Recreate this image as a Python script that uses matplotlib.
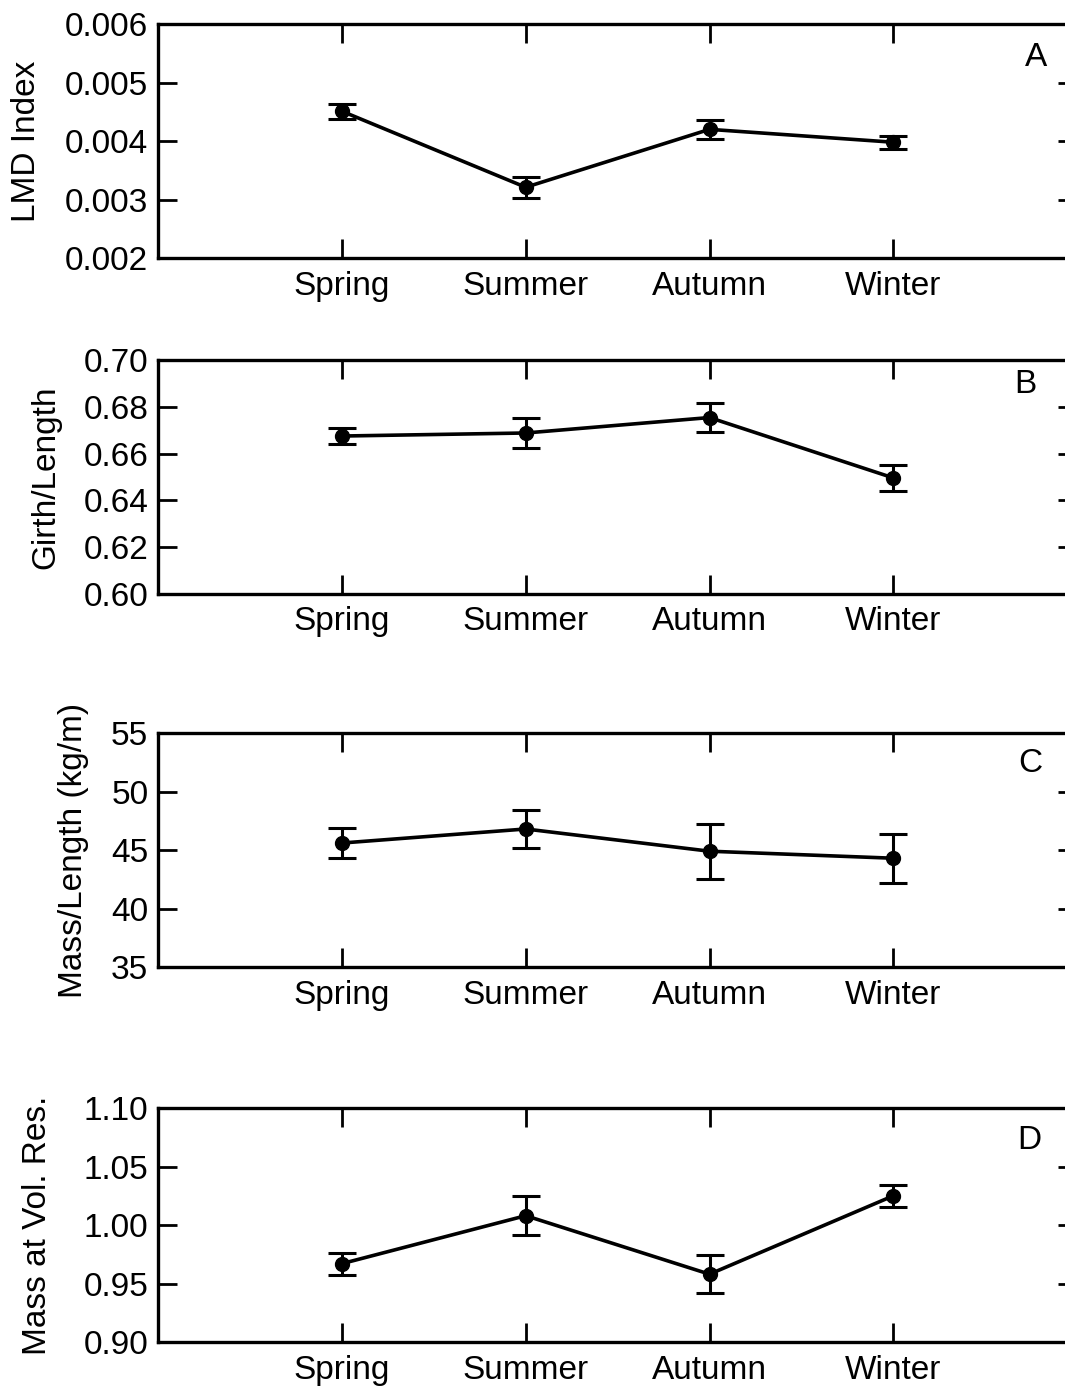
import matplotlib
matplotlib.use('Agg')
import matplotlib.pyplot as plt

plt.rcParams['font.family'] = ['Liberation Sans', 'DejaVu Sans']

seasons = ['Spring', 'Summer', 'Autumn', 'Winter']

lmd = [0.00451, 0.00321, 0.00420, 0.00398]
lmd_err = [0.00013, 0.00018, 0.00016, 0.00011]

girth = [0.6675, 0.6688, 0.6754, 0.6496]
girth_err = [0.0036, 0.0066, 0.0062, 0.0056]

mass_len = [45.6, 46.8, 44.9, 44.3]
mass_len_err = [1.25, 1.6, 2.35, 2.1]

mass_vol = [0.967, 1.008, 0.958, 1.025]
mass_vol_err = [0.0094, 0.0167, 0.016, 0.0094]

panels = [
    (lmd, lmd_err, 'LMD Index', 'A', (0.002, 0.006), [0.002, 0.003, 0.004, 0.005, 0.006], '%.3f', -0.126),
    (girth, girth_err, 'Girth/Length', 'B', (0.60, 0.70), [0.60, 0.62, 0.64, 0.66, 0.68, 0.70], '%.2f', -0.105),
    (mass_len, mass_len_err, 'Mass/Length (kg/m)', 'C', (35, 55), [35, 40, 45, 50, 55], '%d', -0.075),
    (mass_vol, mass_vol_err, 'Mass at Vol. Res.', 'D', (0.90, 1.10), [0.90, 0.95, 1.00, 1.05, 1.10], '%.2f', -0.114),
]

# axes boxes in figure fraction
bottoms = [0.8145, 0.5730, 0.3048, 0.0352]
label_pos = [(0.955, 0.855), (0.944, 0.895), (0.949, 0.87), (0.948, 0.86)]

fig = plt.figure(figsize=(10.65, 13.91), dpi=100)
x = [1, 2, 3, 4]

for i, (y, err, ylab, letter, ylim, yt, fmt, lx) in enumerate(panels):
    ax = fig.add_axes([0.1484, bottoms[i], 0.863, 0.1682])
    ax.errorbar(x, y, yerr=err, color='black', lw=2.6, marker='o', markersize=10,
                capsize=10, capthick=2.2, elinewidth=2.2)
    ax.set_xlim(0, 5)
    ax.set_ylim(*ylim)
    ax.set_xticks(x)
    ax.set_xticklabels(seasons)
    ax.set_yticks(yt)
    ax.set_yticklabels([fmt % v for v in yt])
    ax.tick_params(direction='in', length=14, width=2, labelsize=24,
                   top=True, right=True, pad=9)
    ax.tick_params(axis='y', pad=7)
    for s in ax.spines.values():
        s.set_linewidth(2.4)
    ax.set_ylabel(ylab, fontsize=24)
    ax.yaxis.set_label_coords(lx, 0.5)
    ax.text(label_pos[i][0], label_pos[i][1], letter, transform=ax.transAxes,
            fontsize=24, ha='center', va='center')

fig.savefig('out.png', dpi=100)
